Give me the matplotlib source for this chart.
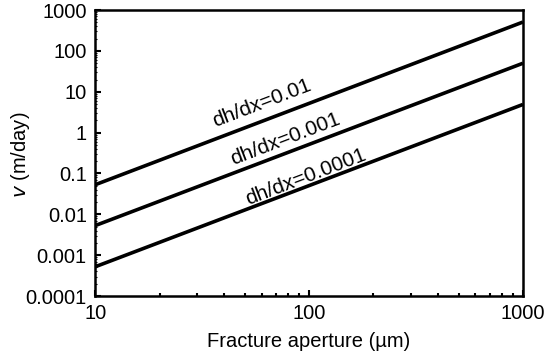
import matplotlib
matplotlib.use("Agg")
import matplotlib.pyplot as plt
from matplotlib.ticker import LogLocator, NullFormatter, FixedLocator, FixedFormatter

plt.rcParams['font.family'] = ['Liberation Sans', 'DejaVu Sans']

# data
aperture = [10, 1000]                 # fracture aperture (um)
v_001 = [0.053, 510]                  # dh/dx = 0.01
v_0001 = [0.0053, 50]                 # dh/dx = 0.001
v_00001 = [0.00052, 4.9]              # dh/dx = 0.0001
labels = ["dh/dx=0.01", "dh/dx=0.001", "dh/dx=0.0001"]
label_x = [36.5, 44, 52]
label_y = [1.35, 0.16, 0.017]

yticks = [0.0001, 0.001, 0.01, 0.1, 1, 10, 100, 1000]
ytick_labels = ["0.0001", "0.001", "0.01", "0.1", "1", "10", "100", "1000"]
xticks = [10, 100, 1000]
xtick_labels = ["10", "100", "1000"]

fs = 14.5

fig = plt.figure(figsize=(5.47, 3.61), dpi=100)
ax = fig.add_axes([0.174, 0.18, 0.782, 0.792])

for v in [v_001, v_0001, v_00001]:
    ax.plot(aperture, v, color="black", lw=2.6, solid_capstyle="butt")

# labels along the lines, anchored at the start of the baseline
for lab, tx, ty in zip(labels, label_x, label_y):
    ax.text(tx, ty, lab, fontsize=15, rotation=21, ha="left", va="baseline",
            rotation_mode="anchor")

ax.set_xscale("log")
ax.set_yscale("log")
ax.set_xlim(10, 1000)
ax.set_ylim(0.0001, 1000)

ax.yaxis.set_major_locator(FixedLocator(yticks))
ax.yaxis.set_major_formatter(FixedFormatter(ytick_labels))
ax.yaxis.set_minor_locator(LogLocator(base=10, subs=range(2, 10), numticks=20))
ax.yaxis.set_minor_formatter(NullFormatter())
ax.xaxis.set_major_locator(FixedLocator(xticks))
ax.xaxis.set_major_formatter(FixedFormatter(xtick_labels))
ax.xaxis.set_minor_locator(LogLocator(base=10, subs=range(2, 10), numticks=20))
ax.xaxis.set_minor_formatter(NullFormatter())

ax.tick_params(which="major", direction="in", length=4, width=1.5, labelsize=fs)
ax.tick_params(which="minor", direction="in", length=2.5, width=1.5)
ax.tick_params(axis="y", which="minor", length=1.2, width=0.8)
ax.tick_params(axis="x", which="major", pad=6)
ax.tick_params(axis="y", which="major", pad=6)

for s in ax.spines.values():
    s.set_linewidth(1.8)

ax.set_xlabel("Fracture aperture (\u00b5m)", fontsize=fs)
ax.xaxis.set_label_coords(0.5, -0.125)
ax.set_ylabel("$\\it{v}$ (m/day)", fontsize=fs)
ax.yaxis.set_label_coords(-0.147, 0.493)

fig.savefig("out.png", dpi=100)
